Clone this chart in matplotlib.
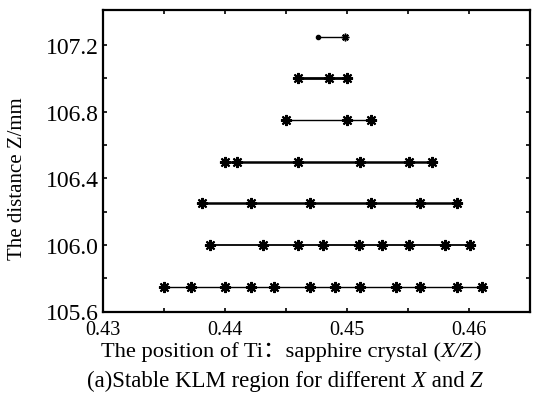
import matplotlib
matplotlib.use("Agg")
import matplotlib.pyplot as plt
from matplotlib.offsetbox import TextArea, HPacker, AnnotationBbox

plt.rcParams['font.family'] = ['Liberation Serif', 'Noto Sans CJK SC', 'DejaVu Sans']

# Z rows (mm) and X/Z positions on each row
z_rows = [107.25, 107.0, 106.75, 106.5, 106.25, 106.0, 105.75]
x_rows = [
    [0.4476, 0.4498],
    [0.4460, 0.4485, 0.4500],
    [0.4450, 0.4500, 0.4520],
    [0.4400, 0.4410, 0.4460, 0.4511, 0.4551, 0.4570],
    [0.4381, 0.4421, 0.4470, 0.4520, 0.4560, 0.4590],
    [0.4388, 0.4431, 0.4460, 0.4480, 0.4510, 0.4529, 0.4551, 0.4580, 0.4601],
    [0.4350, 0.4372, 0.4400, 0.4421, 0.4440, 0.4470, 0.4490, 0.4511, 0.4540,
     0.4560, 0.4590, 0.4611],
]
x_ticks = [0.43, 0.435, 0.44, 0.445, 0.45, 0.455, 0.46]
x_ticklabels = ['0.43', '', '0.44', '', '0.45', '', '0.46']
y_ticks = [105.6, 105.8, 106.0, 106.2, 106.4, 106.6, 106.8, 107.0, 107.2]
y_ticklabels = ['105.6', '', '106.0', '', '106.4', '', '106.8', '', '107.2']

line_widths = [1.0, 2.0, 1.0, 1.8, 1.8, 1.3, 1.0]

fig = plt.figure(figsize=(5.4, 4.02), dpi=100)
ax = fig.add_axes([103 / 540, 1 - 312.5 / 402, (530 - 103) / 540, (312.5 - 11) / 402])

for i, (z, xs) in enumerate(zip(z_rows, x_rows)):
    ys = [z] * len(xs)
    if i == 0:
        ax.plot(xs, ys, '-', color='black', lw=line_widths[i])
        ax.plot(xs[:1], ys[:1], 'o', color='black', ms=3)
        ax.plot(xs[1:], ys[1:], marker=(8, 2, 0), ls='none', color='black', ms=5.5, mew=1.1)
    else:
        ax.plot(xs, ys, '-', color='black', lw=line_widths[i],
                marker=(8, 2, 0), ms=8, mew=1.5, mec='black')

ax.set_xlim(0.43, 0.465)
ax.set_ylim(105.6, 107.41)
ax.set_xticks(x_ticks)
ax.set_xticklabels(x_ticklabels, fontsize=14.5)
ax.set_yticks(y_ticks)
ax.set_yticklabels(y_ticklabels, fontsize=17)
ax.tick_params(direction='in', length=3, width=1.2, top=True, right=True, pad=3)
ax.tick_params(axis='x', pad=6)
for s in ax.spines.values():
    s.set_linewidth(1.6)


def rich_text(segments, xy, fontsize):
    boxes = [TextArea(t, textprops=dict(fontsize=fontsize, fontstyle=st, color='black'))
             for t, st in segments]
    pack = HPacker(children=boxes, align='baseline', pad=0, sep=0)
    ab = AnnotationBbox(pack, xy, xycoords='figure fraction', frameon=False,
                        box_alignment=(0.5, 0.5), pad=0)
    fig.add_artist(ab)


rich_text([('The position of Ti：sapphire crystal (', 'normal'), ('X/Z', 'italic'), (')', 'normal')],
          (291 / 540, 1 - 352 / 402), 16.2)
rich_text([('(a)Stable KLM region for different ', 'normal'), ('X', 'italic'), (' and ', 'normal'),
           ('Z', 'italic')],
          (285 / 540, 1 - 381 / 402), 16.4)
fig.text(18 / 540, 1 - 179 / 402, 'The distance Z/mm', rotation=90,
         ha='center', va='center', fontsize=15)

fig.savefig('out.png', dpi=100)
